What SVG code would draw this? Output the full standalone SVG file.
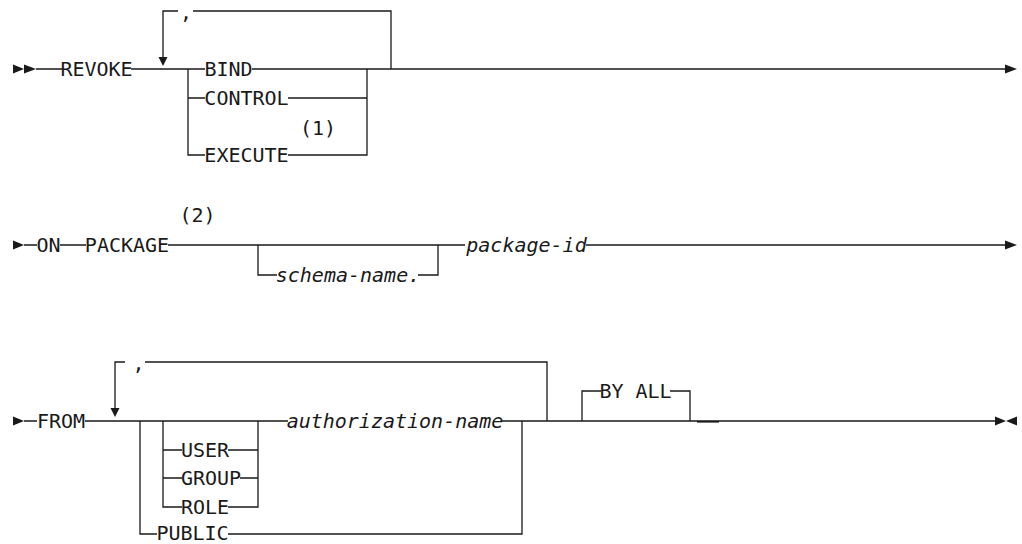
<svg xmlns="http://www.w3.org/2000/svg" width="1022" height="544" viewBox="0 0 1022 544">
<style>
.t{font-family:"DejaVu Sans Mono","Liberation Mono",monospace;font-size:20px;fill:#1a1a1a;text-anchor:middle}
.i{font-style:italic}
.l{fill:none;stroke:#1a1a1a;stroke-width:1.3}
.a{fill:#1a1a1a;stroke:none}
</style>
<rect width="1022" height="544" fill="#fff"/>
<g id="connectors">
  <!-- row 1 -->
  <path class="l" d="M36,69H62M131,69H205M252,69H1005"/>
  <path class="l" d="M163,62V11H178M193,11H391V69"/>
  <path class="l" d="M188,69V155H205M188,98H205M288,98H367M288,155H367V69"/>
  <polygon class="a" points="13,64.5 24,69 13,73.5"/>
  <polygon class="a" points="24,64.5 36,69 24,73.5"/>
  <polygon class="a" points="158.5,57 167.5,57 163,66"/>
  <polygon class="a" points="1005,64.5 1017,69 1005,73.5"/>
  <!-- row 2 -->
  <path class="l" d="M24,245H37M60,245H86M168,245H465M586,245H1005"/>
  <path class="l" d="M258,245V275H277M418,275H438V245"/>
  <polygon class="a" points="13,240.5 24,245 13,249.5"/>
  <polygon class="a" points="1005,240.5 1017,245 1005,249.5"/>
  <!-- row 3 -->
  <path class="l" d="M24,421H37M85,421H288M502,421H995"/>
  <path class="l" d="M115,412V362H125M145,362H547V421"/>
  <path class="l" d="M140,421V534H157M228,534H522V421"/>
  <path class="l" d="M163,421V507H182M163,450H182M163,478H182M228,450H258M240,478H258M228,507H258V421"/>
  <path class="l" d="M582,421V391H601M670,391H690V421"/>
  <path class="l" d="M697,421.8H719" style="stroke-width:1.6"/>
  <polygon class="a" points="13,416.5 24,421 13,425.5"/>
  <polygon class="a" points="110.5,408 119.5,408 115,417"/>
  <polygon class="a" points="995,416.5 1006,421 995,425.5"/>
  <polygon class="a" points="1017,416.5 1006,421 1017,425.5"/>
</g>
<g id="revoke"><text class="t" x="96.5" y="76">REVOKE</text></g>
<g id="comma1"><text class="t" x="186" y="19">,</text></g>
<g id="bind"><text class="t" x="228.5" y="76">BIND</text></g>
<g id="control"><text class="t" x="246.5" y="105">CONTROL</text></g>
<g id="note1"><text class="t" x="318" y="135">(1)</text></g>
<g id="execute"><text class="t" x="246.5" y="162">EXECUTE</text></g>
<g id="on"><text class="t" x="48.5" y="252">ON</text></g>
<g id="package"><text class="t" x="127" y="252">PACKAGE</text></g>
<g id="note2"><text class="t" x="197.5" y="222">(2)</text></g>
<g id="schema-name"><text class="t i" x="348" y="282">schema-name.</text></g>
<g id="package-id"><text class="t i" x="526.5" y="252">package-id</text></g>
<g id="from"><text class="t" x="61" y="428">FROM</text></g>
<g id="comma2"><text class="t" x="138.5" y="370">,</text></g>
<g id="user"><text class="t" x="205" y="457">USER</text></g>
<g id="group"><text class="t" x="211" y="485">GROUP</text></g>
<g id="role"><text class="t" x="205" y="514">ROLE</text></g>
<g id="public"><text class="t" x="192.5" y="540">PUBLIC</text></g>
<g id="authorization-name"><text class="t i" x="395" y="428">authorization-name</text></g>
<g id="by-all"><text class="t" x="635.5" y="398">BY ALL</text></g>
</svg>
